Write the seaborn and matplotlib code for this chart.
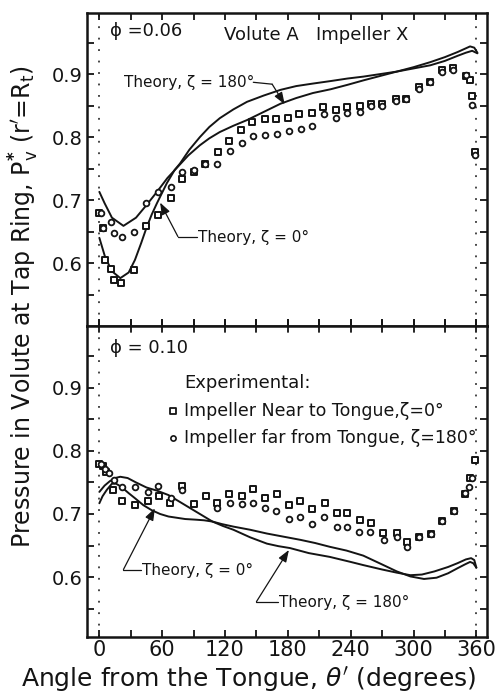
import numpy as np
import pandas as pd
import matplotlib
matplotlib.use("Agg")
import matplotlib.pyplot as plt
from matplotlib.ticker import FixedLocator, FuncFormatter
import seaborn as sns

# ---------------- data: phi = 0.06 ----------------
sq06_theta = [0, 3.8, 5.6, 11.2, 14, 21, 33.5, 45, 56, 68, 79, 90.5, 101, 113, 124,
              135, 146, 158, 169, 180, 191, 203, 214, 226, 236.5, 248.6, 259, 270,
              283, 293, 305, 316, 327, 338, 350, 354, 355.5, 359]
sq06_p = [0.679, 0.655, 0.604, 0.590, 0.573, 0.569, 0.589, 0.658, 0.676, 0.704, 0.733,
          0.745, 0.757, 0.777, 0.793, 0.812, 0.824, 0.828, 0.828, 0.830, 0.837, 0.839,
          0.848, 0.843, 0.847, 0.849, 0.852, 0.852, 0.860, 0.860, 0.880, 0.888, 0.906,
          0.910, 0.897, 0.890, 0.865, 0.776]
ci06_theta = [1.6, 3.8, 11.2, 14, 21.4, 33.5, 45, 56, 68.5, 78.7, 90.5, 101, 112, 125,
              136, 146.6, 158, 170, 180.7, 192.5, 203, 214.8, 226, 236.5, 248.6, 259,
              270, 283, 293, 305, 316, 327, 338, 350, 355.5, 359]
ci06_p = [0.679, 0.655, 0.665, 0.648, 0.641, 0.650, 0.696, 0.712, 0.721, 0.745, 0.747,
          0.757, 0.757, 0.778, 0.791, 0.802, 0.803, 0.805, 0.809, 0.813, 0.818, 0.837,
          0.830, 0.838, 0.840, 0.850, 0.850, 0.858, 0.860, 0.877, 0.888, 0.904, 0.907,
          0.899, 0.851, 0.772]

th06_z0_theta = [0, 5.4, 12, 20, 28, 34, 40, 45, 50, 55, 64.5, 72, 77, 86, 96, 105,
                 115, 128, 141, 157, 173, 188, 204, 221, 237, 252, 268, 284, 300, 316,
                 330, 342, 350, 354, 358, 361]
th06_z0_p = [0.640, 0.610, 0.587, 0.576, 0.585, 0.605, 0.632, 0.656, 0.677, 0.695,
             0.727, 0.748, 0.758, 0.780, 0.800, 0.816, 0.830, 0.844, 0.856, 0.866,
             0.875, 0.881, 0.885, 0.889, 0.893, 0.896, 0.900, 0.904, 0.911, 0.919,
             0.927, 0.935, 0.941, 0.944, 0.942, 0.934]
th06_z180_theta = [0, 5, 12, 23, 35, 45, 55, 65, 75, 85, 96, 105, 115, 128, 141, 157,
                   173, 188, 204, 221, 237, 252, 268, 284, 300, 316, 330, 342, 350,
                   356, 361]
th06_z180_p = [0.713, 0.695, 0.672, 0.659, 0.672, 0.692, 0.713, 0.735, 0.753, 0.771,
               0.787, 0.798, 0.808, 0.818, 0.827, 0.840, 0.853, 0.862, 0.870, 0.876,
               0.883, 0.890, 0.897, 0.904, 0.909, 0.914, 0.921, 0.929, 0.934, 0.937,
               0.933]

# ---------------- data: phi = 0.10 ----------------
sq10_theta = [0, 3.8, 6.4, 13.4, 21.4, 34, 46, 56.5, 67.6, 78.7, 90, 102, 112, 124,
              136, 146.6, 158.4, 170, 181, 192, 203, 215, 227, 236.5, 248.6, 259, 271,
              284, 294, 305, 316.8, 327, 339, 349.6, 354.4, 358.5]
sq10_p = [0.780, 0.776, 0.766, 0.738, 0.721, 0.714, 0.720, 0.728, 0.718, 0.745, 0.716,
          0.729, 0.718, 0.731, 0.729, 0.740, 0.725, 0.731, 0.715, 0.721, 0.708, 0.717,
          0.701, 0.701, 0.690, 0.686, 0.670, 0.670, 0.656, 0.664, 0.669, 0.689, 0.705,
          0.731, 0.757, 0.786]
ci10_theta = [1.5, 5, 9, 14.3, 21.4, 34, 46, 56.4, 68.5, 78.7, 112, 125, 136, 146.6,
              158.4, 169, 180.7, 192, 203, 214.8, 227, 236.5, 248, 258.8, 271.5, 284,
              294, 305, 316.8, 327, 339, 349.6, 353, 356]
ci10_p = [0.779, 0.772, 0.765, 0.754, 0.743, 0.742, 0.735, 0.744, 0.726, 0.738, 0.709,
          0.718, 0.716, 0.718, 0.709, 0.705, 0.692, 0.695, 0.684, 0.696, 0.680, 0.679,
          0.672, 0.672, 0.658, 0.664, 0.648, 0.664, 0.669, 0.689, 0.705, 0.733, 0.743,
          0.757]

th10_z0_theta = [0, 3, 7, 12, 16, 21, 28, 34, 42, 50, 58, 66, 74, 82, 92, 100, 108,
                 117, 128, 144, 160, 176, 192, 206, 220, 236, 252, 270, 284, 297, 310,
                 322, 333, 342, 349, 354, 357, 360]
th10_z0_p = [0.717, 0.728, 0.738, 0.748, 0.748, 0.743, 0.733, 0.725, 0.714, 0.706,
             0.700, 0.696, 0.694, 0.692, 0.691, 0.690, 0.688, 0.684, 0.680, 0.675,
             0.669, 0.664, 0.659, 0.654, 0.648, 0.642, 0.634, 0.620, 0.609, 0.601,
             0.597, 0.599, 0.606, 0.614, 0.620, 0.624, 0.622, 0.615]
th10_z180_theta = [0, 5, 10, 15, 20, 27, 35, 45, 55, 66, 75, 82, 90, 98, 108, 118,
                   128, 144, 160, 171, 182, 200, 220, 240, 252, 270, 284, 297, 308,
                   320, 333, 342, 350, 355, 358, 360]
th10_z180_p = [0.735, 0.745, 0.752, 0.757, 0.759, 0.757, 0.750, 0.742, 0.737, 0.730,
               0.721, 0.714, 0.706, 0.698, 0.688, 0.681, 0.675, 0.663, 0.653, 0.649,
               0.646, 0.638, 0.632, 0.624, 0.619, 0.612, 0.607, 0.603, 0.604, 0.609,
               0.616, 0.622, 0.628, 0.630, 0.627, 0.615]

x_ticks = [0, 60, 120, 180, 240, 300, 360]
y_labelled = [0.6, 0.7, 0.8, 0.9]

INK = "#141414"

sns.set_theme(style="ticks")
plt.rcParams["font.family"] = ["DejaVu Sans"]
plt.rcParams["mathtext.fontset"] = "dejavusans"

fig = plt.figure(figsize=(4.98, 6.93), dpi=100)
ax1 = fig.add_axes([0.1747, 0.5296, 0.8033, 0.4516])
ax2 = fig.add_axes([0.1747, 0.0808, 0.8033, 0.4488])


def exp_frame(theta, p, kind):
    return pd.DataFrame({"theta": theta, "p": p, "kind": kind})


def draw_panel(ax, sq_t, sq_p, ci_t, ci_p, z0_t, z0_p, z180_t, z180_p):
    theory = pd.concat([
        pd.DataFrame({"theta": z0_t, "p": z0_p, "case": "z0"}),
        pd.DataFrame({"theta": z180_t, "p": z180_p, "case": "z180"}),
    ])
    sns.lineplot(data=theory, x="theta", y="p", units="case", estimator=None,
                 sort=False, color=INK, linewidth=1.4, ax=ax, legend=False)
    sns.scatterplot(data=exp_frame(sq_t, sq_p, "near"), x="theta", y="p", marker="s",
                    s=24, facecolor="white", edgecolor=INK, linewidth=1.4, ax=ax,
                    zorder=3, legend=False)
    sns.scatterplot(data=exp_frame(ci_t, ci_p, "far"), x="theta", y="p", marker="o",
                    s=17, facecolor="white", edgecolor=INK, linewidth=1.3, ax=ax,
                    zorder=3, legend=False)
    for xv in (0, 360):
        ax.axvline(xv, color=INK, linewidth=1.1, linestyle=(0, (1.2, 6.3)), zorder=1)
    ax.set_xlim(-11.8, 370.2)
    ax.set_xlabel("")
    ax.set_ylabel("")
    ax.xaxis.set_major_locator(FixedLocator(np.arange(0, 361, 30)))
    ax.yaxis.set_major_locator(FixedLocator(np.arange(0.55, 0.96, 0.05)))
    ax.yaxis.set_major_formatter(FuncFormatter(
        lambda v, _: (f"{v:.1f}" if any(abs(v - t) < 1e-6 for t in y_labelled) else "")))
    ax.tick_params(axis="y", which="major", direction="in", length=5, width=1.3,
                   left=True, right=True, labelsize=14, pad=3, colors=INK)
    for side in ("left", "right", "top", "bottom"):
        ax.spines[side].set_linewidth(1.8)
        ax.spines[side].set_color(INK)


draw_panel(ax1, sq06_theta, sq06_p, ci06_theta, ci06_p,
           th06_z0_theta, th06_z0_p, th06_z180_theta, th06_z180_p)
draw_panel(ax2, sq10_theta, sq10_p, ci10_theta, ci10_p,
           th10_z0_theta, th10_z0_p, th10_z180_theta, th10_z180_p)

ax1.set_ylim(0.5, 0.997)
ax2.set_ylim(0.505, 0.998)

ax1.tick_params(axis="x", direction="in", length=5, width=1.3, top=True,
                bottom=True, labelbottom=False, colors=INK)
ax2.tick_params(axis="x", direction="in", length=5, width=1.3, top=False,
                bottom=True, labelsize=15, pad=2, colors=INK)
ax2.set_xticks(np.arange(0, 361, 30))
ax2.set_xticklabels([str(v) if v in x_ticks else "" for v in range(0, 361, 30)])

# divider ticks crossing the shared edge
for xv in range(0, 361, 30):
    ax1.plot([xv, xv], [0.5, 0.509], color=INK, lw=1.3, clip_on=False, zorder=4)
    ax2.plot([xv, xv], [0.998, 0.989], color=INK, lw=1.3, clip_on=False, zorder=4)

txt = dict(color=INK, fontsize=11)
big = dict(color=INK, fontsize=13)
arrow_style = dict(arrowstyle="-|>,head_length=0.6,head_width=0.22",
                   color=INK, lw=0.9, shrinkA=0, shrinkB=0)

# ---- annotations, phi = 0.06 ----
ax1.text(10, 0.968, "ϕ =0.06", va="center", **big)
ax1.text(119, 0.962, "Volute A   Impeller X", va="center", **big)
ax1.text(24, 0.887, "Theory, ζ = 180°", va="center", **txt)
ax1.plot([147, 165], [0.887, 0.884], color=INK, lw=0.9)
ax1.annotate("", xy=(177, 0.852), xytext=(165, 0.884), arrowprops=arrow_style)
ax1.text(94, 0.641, "Theory, ζ = 0°", va="center", **txt)
ax1.plot([93, 75], [0.642, 0.642], color=INK, lw=0.9)
ax1.annotate("", xy=(58, 0.696), xytext=(75, 0.642), arrowprops=arrow_style)

# ---- annotations, phi = 0.10 ----
ax2.text(10, 0.963, "ϕ = 0.10", va="center", **big)
ax2.text(81, 0.907, "Experimental:", va="center", **big)
ax2.scatter([70], [0.864], marker="s", s=18, facecolor="white", edgecolor=INK,
            linewidth=1.3, zorder=3)
ax2.text(81, 0.864, "Impeller Near to Tongue,ζ=0°", va="center", fontsize=12.5,
         color=INK)
ax2.scatter([70], [0.820], marker="o", s=14, facecolor="white", edgecolor=INK,
            linewidth=1.2, zorder=3)
ax2.text(81, 0.820, "Impeller far from Tongue, ζ=180°", va="center", fontsize=12.5,
         color=INK)

ax2.text(41, 0.611, "Theory, ζ = 0°", va="center", **txt)
ax2.plot([40, 23], [0.612, 0.612], color=INK, lw=0.9)
ax2.annotate("", xy=(53, 0.709), xytext=(23, 0.612), arrowprops=arrow_style)
ax2.text(172, 0.560, "Theory, ζ = 180°", va="center", **txt)
ax2.plot([171, 150], [0.561, 0.561], color=INK, lw=0.9)
ax2.annotate("", xy=(181, 0.643), xytext=(150, 0.561), arrowprops=arrow_style)

fig.text(0.047, 0.557,
         r"Pressure in Volute at Tap Ring, P$_\mathregular{v}^{\mathbf{*}}$ (r$'$=R$_\mathregular{t}$)",
         rotation=90, ha="center", va="center", fontsize=17, color=INK)
fig.text(0.5, 0.019, r"Angle from the Tongue, $\theta'$ (degrees)",
         ha="center", va="center", fontsize=18, color=INK)

fig.savefig("out.png", dpi=100)
